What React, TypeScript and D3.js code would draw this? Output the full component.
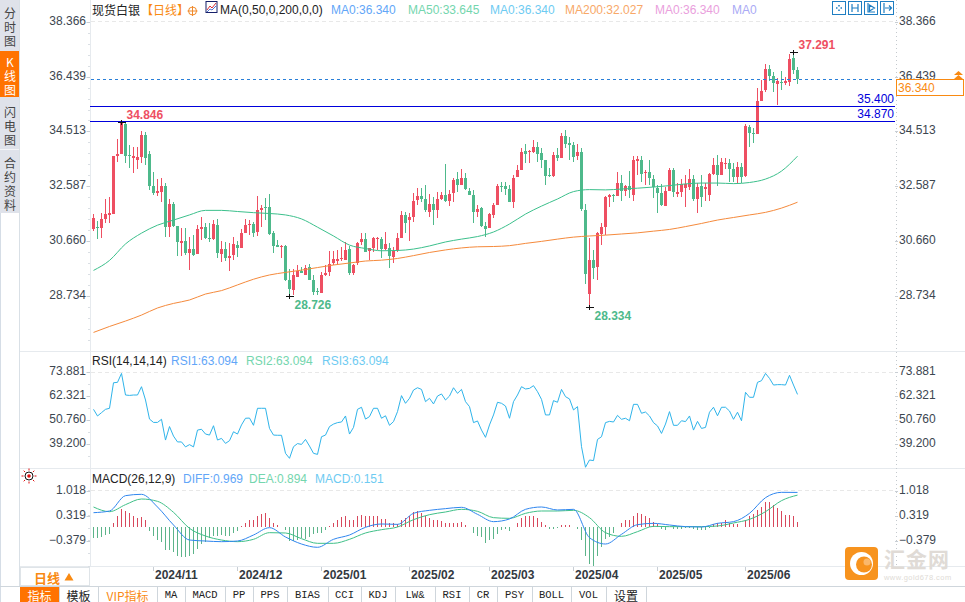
import React from "react";
import * as d3 from "d3";

type Row = [number, number, number, number]; // open, high, low, close
const octCandles: Row[] = [[31.08,31.61,31.01,31.47],[31.15,31.37,30.73,31.12],[31.12,31.65,30.77,31.44],[31.44,32.14,31.30,31.61],[31.58,32.21,31.30,31.65],[31.61,33.65,31.61,33.65],[33.65,34.25,33.44,33.72],[33.72,34.846,33.72,34.81],[34.78,34.81,33.40,33.65],[33.69,34.04,33.23,33.65],[33.58,33.97,33.05,33.65],[33.51,33.97,33.19,33.62],[33.62,34.53,33.40,34.39],[34.39,34.50,33.33,33.58],[33.72,33.83,32.46,32.60]];
const novCandles: Row[] = [[32.60,33.09,32.28,32.35],[32.35,32.84,32.24,32.42],[32.39,32.88,32.03,32.60],[32.60,32.70,30.80,31.15],[31.15,32.14,30.80,31.96],[31.96,32.03,31.15,31.19],[31.19,31.19,30.14,30.63],[30.59,31.12,30.14,30.66],[30.66,31.12,30.17,30.24],[30.24,30.80,29.64,30.38],[30.38,30.87,30.14,30.17],[30.21,31.22,30.21,31.08],[31.08,31.51,30.70,31.15],[31.15,31.30,30.73,30.77],[30.77,31.30,30.63,30.73],[30.73,31.40,30.70,31.26],[31.22,31.44,30.07,30.24],[30.21,30.66,29.92,30.38],[30.38,30.63,29.96,30.07],[30.07,30.59,29.61,30.14],[30.17,30.80,29.99,30.56]];
const decCandles: Row[] = [[30.52,30.66,30.10,30.42],[30.42,31.08,30.42,30.94],[30.94,31.44,30.94,31.22],[31.22,31.40,30.87,31.26],[31.26,31.33,30.80,30.94],[30.98,32.24,30.84,31.75],[31.75,31.93,31.15,31.82],[31.86,32.17,31.40,31.82],[31.86,32.32,30.87,30.91],[30.94,31.01,30.24,30.49],[30.52,30.70,30.45,30.45],[30.45,30.52,30.07,30.49],[30.49,30.52,29.26,29.29],[29.29,29.68,28.726,28.97],[28.94,29.68,28.77,29.47],[29.40,29.82,29.40,29.61],[29.61,29.75,29.54,29.54],[29.47,29.82,29.47,29.71],[29.75,29.85,29.29,29.29],[29.29,29.47,28.77,28.87],[28.91,29.01,28.77,28.87]];
const janCandles: Row[] = [[28.84,29.57,28.84,29.47],[29.47,29.82,29.43,29.54],[29.57,30.31,29.43,29.85],[29.89,30.31,29.82,30.03],[29.96,30.35,29.82,30.03],[30.03,30.45,29.96,30.07],[29.99,30.63,29.99,30.35],[30.38,30.49,29.47,29.54],[29.54,29.85,29.47,29.82],[29.89,30.63,29.82,30.59],[30.63,30.94,30.52,30.73],[30.73,30.94,30.28,30.28],[30.31,30.42,29.99,30.42],[30.42,30.80,30.28,30.77],[30.73,30.80,30.35,30.77],[30.73,30.80,30.07,30.38],[30.38,30.98,30.35,30.56],[30.42,30.59,29.71,30.14],[30.10,30.45,29.89,30.31],[30.35,30.94,30.28,30.77],[30.77,31.72,30.77,31.58],[31.58,31.68,30.94,31.30]];
const febCandles: Row[] = [[31.40,31.65,30.66,31.51],[31.51,32.35,31.33,32.07],[32.10,32.53,31.93,32.24],[32.24,32.53,32.03,32.14],[32.14,32.63,31.68,31.75],[31.68,32.32,31.51,31.96],[31.96,32.21,31.22,31.75],[31.75,32.39,31.47,32.14],[32.14,32.39,32.10,32.28],[32.28,33.37,32.03,32.07],[32.07,32.46,31.89,32.32],[32.35,32.88,32.03,32.81],[32.84,33.09,32.39,32.63],[32.63,33.19,32.63,32.88],[32.88,33.05,32.46,32.49],[32.42,32.53,32.28,32.28],[32.28,32.46,31.30,31.68],[31.68,31.93,31.51,31.79],[31.82,31.86,31.15,31.19],[31.19,31.33,30.80,31.08]];
const marCandles: Row[] = [[31.12,31.65,31.12,31.61],[31.58,32.00,31.47,31.93],[31.93,32.67,31.93,32.60],[32.60,32.74,32.39,32.58],[32.60,32.74,32.28,32.49],[32.49,32.63,32.03,32.03],[32.03,32.98,31.82,32.88],[32.91,33.33,32.91,33.16],[33.16,33.93,33.16,33.79],[33.83,34.07,33.40,33.72],[33.79,33.86,33.40,33.83],[33.79,34.21,33.76,33.97],[33.97,34.14,33.44,33.72],[33.76,33.93,33.23,33.51],[33.51,33.51,32.63,32.95],[32.98,33.23,32.91,32.95],[32.95,33.79,32.91,33.69],[33.69,33.93,33.47,33.58],[33.58,34.46,33.58,34.35],[34.35,34.57,33.93,34.07],[34.11,34.32,33.51,34.04]];
const aprCandles: Row[] = [[34.04,34.14,33.44,33.62],[33.65,34.07,33.51,33.79],[33.79,33.93,31.72,31.79],[31.75,31.96,29.15,29.50],[28.80,30.77,28.334,29.99],[29.99,30.35,29.33,29.71],[29.75,30.98,29.29,30.94],[30.91,31.30,30.52,31.15],[31.15,32.24,30.87,32.21],[32.21,32.32,31.86,32.28],[32.28,32.32,32.03,32.24],[32.24,33.09,32.24,32.70],[32.70,32.98,32.07,32.42],[32.42,32.63,32.24,32.60],[32.60,33.12,32.17,32.46],[32.28,33.65,32.07,33.51],[33.48,33.65,32.98,33.55],[33.51,33.65,32.74,33.02],[33.05,33.16,32.63,33.09],[33.09,33.51,32.63,32.88],[32.84,32.98,32.17,32.56]];
const mayCandles: Row[] = [[32.53,32.63,31.65,32.35],[32.35,32.67,31.89,31.93],[31.89,32.56,31.89,32.42],[32.42,33.23,32.42,33.16],[33.16,33.23,32.21,32.39],[32.32,32.70,32.21,32.39],[32.39,32.84,32.21,32.67],[32.53,32.98,31.86,32.67],[32.56,33.19,32.46,32.84],[32.84,32.98,32.07,32.14],[32.14,32.70,31.65,32.56],[32.60,32.98,31.86,32.21],[32.49,32.70,32.07,32.56],[32.28,33.05,32.07,33.02],[33.02,33.58,32.98,33.34],[33.34,33.69,32.60,32.98],[32.98,33.58,32.98,33.44],[33.37,33.58,33.19,33.40],[33.40,33.55,32.74,33.19],[33.19,33.40,32.74,32.91],[32.91,33.44,32.70,33.26],[33.26,33.40,32.70,32.91]];
const junCandles: Row[] = [[32.95,34.78,32.91,34.71],[34.67,34.74,33.97,34.46],[34.46,34.63,34.11,34.42],[34.42,36.04,34.42,35.58],[35.58,36.32,35.58,35.93],[35.97,36.89,35.90,36.71],[36.71,36.85,36.29,36.46],[36.46,36.60,35.90,36.22],[36.18,36.39,35.44,36.29],[36.26,36.64,35.97,36.25],[36.22,36.43,36.15,36.29],[36.25,37.24,36.11,37.06],[37.10,37.291,36.53,36.67],[36.67,36.78,36.18,36.34]];
const candles: Row[] = [...octCandles,...novCandles,...decCandles,...janCandles,...febCandles,...marCandles,...aprCandles,...mayCandles,...junCandles];

// moving averages, read every 4th session
const ma50 = [29.63,29.98,30.56,30.94,31.22,31.40,31.58,31.74,31.74,31.70,31.66,31.63,31.58,31.44,31.15,30.84,30.52,30.40,30.32,30.33,30.38,30.49,30.63,30.73,30.82,30.98,31.26,31.61,31.89,32.14,32.40,32.47,32.46,32.49,32.52,32.56,32.61,32.67,32.70,32.70,32.68,32.72,32.84,33.12,33.645];
const ma200 = [27.45,27.66,27.85,28.06,28.31,28.47,28.59,28.80,28.92,29.12,29.32,29.47,29.56,29.64,29.73,29.82,29.89,29.96,29.99,30.05,30.15,30.26,30.35,30.42,30.46,30.47,30.50,30.58,30.65,30.73,30.80,30.84,30.87,30.91,30.95,31.01,31.07,31.17,31.28,31.40,31.49,31.58,31.67,31.82,32.027];
const diff = [0.406,0.453,0.879,0.916,0.564,0.064,-0.353,-0.381,-0.399,-0.381,-0.214,-0.010,-0.269,-0.464,-0.556,-0.334,-0.214,0,0.092,0.082,0.388,0.471,0.518,0.555,0.360,0.157,0.231,0.499,0.564,0.481,0.499,-0.288,-0.464,-0.195,0.073,0.110,0.064,0.018,0.008,0.110,0.157,0.388,0.823,0.971,0.969];
const dea = [0.564,0.434,0.629,0.786,0.721,0.416,-0.029,-0.242,-0.353,-0.399,-0.334,-0.149,-0.158,-0.316,-0.445,-0.445,-0.334,-0.158,-0.066,0.008,0.212,0.351,0.425,0.499,0.444,0.268,0.249,0.388,0.453,0.453,0.471,0.268,-0.149,-0.251,-0.121,0.027,0.018,0.018,0.018,0.036,0.120,0.221,0.434,0.740,0.894];
const rsi = [55.9,52.7,54.3,55.9,56.4,68.7,68.9,73.2,62.8,62.6,62.8,62.8,66.8,60.4,51.2,49.6,49.6,51.1,41.1,47.6,43.0,40.2,40.2,37.8,38.9,37.8,45.9,46.3,44.0,43.5,48.0,41.1,41.9,39.5,40.8,45.1,44.0,48.4,51.6,51.7,48.2,56.4,56.4,56.4,46.7,43.5,43.4,43.4,34.7,32.3,37.9,39.4,39.0,41.4,38.2,34.7,34.2,42.7,43.5,47.6,48.8,49.5,49.8,52.7,44.0,47.2,55.9,56.9,51.2,52.4,56.4,56.4,51.6,52.8,48.2,50.0,54.8,62.5,58.8,61.2,65.2,66.3,65.5,59.6,61.2,58.5,62.3,63.3,60.4,62.3,66.3,63.6,65.5,59.6,57.2,49.5,50.3,45.9,42.4,48.4,53.2,59.3,58.8,57.5,51.6,59.6,62.8,66.8,65.7,66.0,67.3,64.4,60.7,53.2,53.2,60.1,59.3,65.5,62.0,60.9,55.6,57.2,37.9,28.0,31.5,31.2,41.4,42.7,49.5,50.1,49.8,53.0,51.1,51.6,50.4,58.3,58.3,54.0,54.6,52.7,49.5,47.9,44.3,48.8,54.8,48.2,48.2,50.4,50.0,52.7,45.9,50.1,46.7,47.2,54.5,56.9,52.8,56.9,56.9,55.1,51.1,54.5,50.4,64.1,61.7,61.7,68.9,69.7,73.2,70.8,67.6,67.8,67.8,67.6,72.3,67.6,63.094];
const macdBars = [-0.30,-0.30,-0.26,-0.22,-0.19,0.13,0.32,0.51,0.45,0.41,0.32,0.26,0.28,0.20,-0.10,-0.24,-0.35,-0.41,-0.63,-0.63,-0.68,-0.80,-0.83,-0.83,-0.80,-0.74,-0.60,-0.47,-0.40,-0.31,-0.23,-0.23,-0.22,-0.23,-0.23,-0.15,-0.11,0.04,0.13,0.20,0.20,0.32,0.37,0.41,0.25,0.13,0.05,0.01,-0.07,-0.37,-0.37,-0.35,-0.31,-0.33,-0.26,-0.19,-0.17,-0.15,-0.07,0.04,0.11,0.20,0.28,0.30,0.20,0.20,0.30,0.34,0.30,0.30,0.32,0.31,0.22,0.22,0.13,0.11,0.09,0.20,0.27,0.30,0.42,0.46,0.39,0.30,0.25,0.19,0.19,0.18,0.13,0.13,0.13,0.13,0.15,0.06,0.01,-0.17,-0.24,-0.26,-0.43,-0.35,-0.32,-0.19,-0.07,-0.06,-0.09,0.02,0.13,0.25,0.31,0.32,0.31,0.25,0.16,0.05,-0.06,-0.06,-0.03,0.06,0.06,0.06,0.02,-0.06,-0.35,-0.80,-1.03,-1.07,-0.81,-0.54,-0.32,-0.26,-0.17,0.02,0.13,0.19,0.19,0.32,0.39,0.37,0.32,0.27,0.16,0.09,-0.06,-0.07,0.01,-0.06,-0.06,-0.04,-0.03,-0.02,-0.06,-0.07,-0.07,-0.07,-0.01,0.09,0.11,0.11,0.19,0.13,0.09,0.09,0.02,0.20,0.30,0.36,0.48,0.57,0.71,0.69,0.62,0.53,0.45,0.34,0.34,0.32,0.151];

const priceTicks = [38.366,36.439,34.513,32.587,30.660,28.734];
const rsiTicks = [73.881,62.321,50.760,39.200];
const macdTicks = [1.018,0.319,-0.379];
const monthLabels = ["2024/11","2024/12","2025/01","2025/02","2025/03","2025/04","2025/05","2025/06"];
const monthStarts = [15,36,57,79,99,120,141,163];
const priceLevels = [35.400,34.870];
const lastPrice = 36.340;
const maxPoints = [{i:7,v:34.846},{i:175,v:37.291}];
const minPoints = [{i:49,v:28.726},{i:124,v:28.334}];
const sideTabs = [["分","时","图"],["K","线","图"],["闪","电","图"],["合","约","资","料"]];
const sideTabTops = [13.5,62,112,163];
const bottomTabs = ["指标","模板","VIP指标","MA","MACD","PP","PPS","BIAS","CCI","KDJ","LW&","RSI","CR","PSY","BOLL","VOL","设置"];
const bottomEdges = [20,59,98,157,185,225,253,287,328,361,395,435,469,497,532,571,606,646];
const maLegend = [["MA0:36.340",331,"#62a6f8"],["MA50:33.645",408,"#74d6ae"],["MA0:36.340",490,"#6ecbf2"],["MA200:32.027",565,"#f8a868"],["MA0:36.340",655,"#eaa0dd"],["MA0",732,"#aaaaf5"]] as const;
const rsiLegend = [["RSI1:63.094",171,"#62a6f8"],["RSI2:63.094",246,"#74d6ae"],["RSI3:63.094",322,"#6ecbf2"]] as const;
const macdLegend = [["DIFF:0.969",183,"#62a6f8"],["DEA:0.894",249,"#74d6ae"],["MACD:0.151",315,"#6ecbf2"]] as const;

const RED = "#ee4f62", GREEN = "#4eb98b", GRID = "#e6eaee";
const SANS = "'Liberation Sans', Arial, sans-serif";
const CJK = "'Noto Sans CJK SC', 'Liberation Sans', sans-serif";
const MONO = "'Liberation Mono', monospace";

const x = d3.scaleLinear().domain([0,176]).range([93.5,797.5]);
const yP = d3.scaleLinear().domain([38.366,28.734]).range([21.85,295.9]);
const yR = d3.scaleLinear().domain([73.881,39.2]).range([372,444]);
const yM = d3.scaleLinear().domain([1.018,-0.379]).range([490.65,540.94]);
const step4 = (_: number, i: number) => x(i*4);
const lineP = d3.line<number>().x(step4).y(d => yP(d)).curve(d3.curveMonotoneX);
const lineM = d3.line<number>().x(step4).y(d => yM(d)).curve(d3.curveMonotoneX);
const lineR = d3.line<number>().x((_, i) => x(i)).y(d => yR(d));

function Axis({ ticks, y, fmt }: { ticks: number[]; y: (v: number) => number; fmt: (v: number) => string }) {
  return <g fontFamily={SANS} fontSize={12} fill="#3c4650">
    {ticks.map(t => <g key={t}>
      <text x={86} y={y(t)-1} textAnchor="end" dominantBaseline="central">{fmt(t)}</text>
      <text x={899} y={y(t)-1} dominantBaseline="central">{fmt(t)}</text>
      <line x1={86.5} x2={90} y1={Math.round(y(t))+.5} y2={Math.round(y(t))+.5} stroke="#c8ced4"/>
      <line x1={895} x2={898} y1={Math.round(y(t))+.5} y2={Math.round(y(t))+.5} stroke="#c8ced4"/>
    </g>)}
  </g>;
}

export default function App() {
  const f3 = d3.format(".3f");
  const minorP = d3.range(21.85, 340, 10.96);
  const minorR = d3.range(372, 466, 12);
  const minorM = d3.range(490, 566, 12.6);
  return (
    <svg width={965} height={602} viewBox="0 0 965 602" style={{position:"fixed",left:0,top:0,background:"#fff"}}>
      {/* left tabs */}
      <rect x={0} y={0} width={19.5} height={213} fill="#dfe2ea"/>
      <rect x={0} y={51} width={19} height={46} fill="#ff7300"/>
      <line x1={0} x2={20} y1={149.5} y2={149.5} stroke="#f4f5f8"/>
      <line x1={0.5} x2={0.5} y1={213} y2={602} stroke="#d5dde6"/>
      <line x1={19.5} x2={19.5} y1={0} y2={586} stroke="#d9e0e6"/>
      <g fontFamily={CJK} fontSize={12} textAnchor="middle">
        {sideTabs.map((tab,k)=><text key={k} y={sideTabTops[k]+4.5} fill={k===1?"#fff":"#444"}>
          {tab.map((c,i)=><tspan key={i} x={10} dy={i===0?0:14}>{c}</tspan>)}
        </text>)}
      </g>

      {/* panel frame */}
      <g stroke={GRID} shapeRendering="crispEdges">
        <line x1={20} x2={965} y1={351.5} y2={351.5}/>
        <line x1={20} x2={965} y1={468.5} y2={468.5}/>
        <line x1={20} x2={965} y1={566.5} y2={566.5}/>
        <line x1={90.5} x2={90.5} y1={0} y2={566}/>
        <line x1={0} x2={965} y1={586.5} y2={586.5} stroke="#cfd6dc"/>
      </g>
      <line x1={896.5} x2={896.5} y1={0} y2={566} stroke="#c4c9ce" strokeDasharray="1 3"/>
      <g stroke="#dadfe4" shapeRendering="crispEdges">
        {[...minorP,...minorR,...minorM].map((m,i)=><line key={i} x1={88} x2={90} y1={Math.round(m)+.5} y2={Math.round(m)+.5}/>)}
      </g>
      <g stroke="#e8e8e8" strokeDasharray="4 3" shapeRendering="crispEdges">
        {[21.5,372.5,490.5].map(v=><line key={v} x1={91} x2={895} y1={v} y2={v}/>)}
      </g>

      {/* header */}
      <g fontFamily={CJK} fontSize={12} dominantBaseline="central">
        <text x={92} y={9} fill="#222">现货白银</text>
        <text x={141} y={9} fill="#f98a12">【日线】</text>
      </g>
      <circle cx={192.5} cy={11} r={4} fill="none" stroke="#f08a2c"/>
      <path d="M187.5 11h10M192.5 6v10" stroke="#f08a2c"/>
      <rect x={206} y={1.5} width={11} height={11} fill="#fff" stroke="#16206a"/>
      <path d="M207 10l3-4 2 2 4-5" fill="none" stroke="#d6303a"/>
      <path d="M207 12l3-3 2 1 4-4" fill="none" stroke="#2050c8" strokeWidth={.8}/>
      <g fontFamily={SANS} fontSize={12} dominantBaseline="central">
        <text x={220} y={9.5} fill="#222">MA(0,50,0,200,0,0)</text>
        {maLegend.map(([t,px,c],i)=><text key={i} x={px} y={9.5} fill={c}>{t}</text>)}
        <text x={92} y={361} fill="#222">RSI(14,14,14)</text>
        {rsiLegend.map(([t,px,c],i)=><text key={i} x={px} y={361} fill={c}>{t}</text>)}
        <text x={92} y={479} fill="#222">MACD(26,12,9)</text>
        {macdLegend.map(([t,px,c],i)=><text key={i} x={px} y={479} fill={c}>{t}</text>)}
      </g>
      {[832,848,864,880].map((bx,i)=><g key={bx} fill="none" stroke="#1f7ec2">
        <rect x={bx+.5} y={1.5} width={13} height={13}/>
        {i===0 ? <path d="M7 5v1.5M7 9.5v1.5M4 8h1.5M8.5 8h1.5" transform={`translate(${bx},0)`} strokeWidth={1.6}/> :
         <path d={i===1?"M4 4v8M10 4v8M4 8h6":i===2?"M4 3v9h7M5.5 5l5 3-5 3z":"M4 3v10M5 8h6M9 5.5l2.5 2.5-2.5 2.5"} transform={`translate(${bx},0)`} strokeWidth={1.2}/>}
      </g>)}

      <Axis ticks={priceTicks} y={yP} fmt={f3}/>
      <Axis ticks={rsiTicks} y={yR} fmt={f3}/>
      <Axis ticks={macdTicks} y={yM} fmt={f3}/>

      {/* candles */}
      <g shapeRendering="crispEdges">
        {candles.map(([o,h,l,c],i)=>{
          const up = c>=o, col = up?RED:GREEN, cx = Math.floor(x(i));
          const top = yP(Math.max(o,c)), bot = yP(Math.min(o,c));
          return <g key={i} fill={col}>
            <rect x={cx} y={yP(h)} width={1} height={Math.max(1,yP(l)-yP(h))}/>
            <rect x={cx-1} y={Math.round(top)} width={3} height={Math.max(1,Math.round(bot)-Math.round(top))}/>
          </g>;
        })}
      </g>
      <path d={lineP(ma50)!} fill="none" stroke="#3cc08c" strokeWidth={1}/>
      <path d={lineP(ma200)!} fill="none" stroke="#f58a3c" strokeWidth={1}/>

      {/* levels */}
      <line x1={91} x2={895} y1={Math.round(yP(lastPrice))+.5} y2={Math.round(yP(lastPrice))+.5} stroke="#2a7fd8" strokeDasharray="3 3" shapeRendering="crispEdges"/>
      {priceLevels.map(v=><g key={v}>
        <line x1={90} x2={895} y1={Math.round(yP(v))+.5} y2={Math.round(yP(v))+.5} stroke="#0000dc" shapeRendering="crispEdges"/>
        <text x={894} y={yP(v)-3.5} textAnchor="end" fontFamily={SANS} fontSize={12} fill="#0000dc">{f3(v)}</text>
      </g>)}
      <rect x={896.5} y={79.5} width={67} height={16} fill="#fff" stroke="#f98a12"/>
      <text x={898} y={88} fontFamily={SANS} fontSize={12} fill="#f98a12" dominantBaseline="central">{f3(lastPrice)}</text>
      <path d="M958.5 71l4.5 4h-9zM958.5 75l4.5 4h-9z" fill="#f98a12"/>

      {/* extremes */}
      {maxPoints.map(p=><g key={p.i}>
        <path d={`M${Math.floor(x(p.i))-3} ${Math.round(yP(p.v))+.5}h8M${Math.floor(x(p.i))+.5} ${Math.round(yP(p.v))-2}v5`} stroke="#111"/>
        <text x={x(p.i)+5} y={yP(p.v)-3} fontFamily={SANS} fontSize={12} fontWeight={700} fill={RED}>{f3(p.v)}</text>
      </g>)}
      {minPoints.map(p=><g key={p.i}>
        <path d={`M${Math.floor(x(p.i))-3} ${Math.round(yP(p.v))+.5}h8M${Math.floor(x(p.i))+.5} ${Math.round(yP(p.v))-2}v5`} stroke="#111"/>
        <text x={x(p.i)+5} y={yP(p.v)+12.5} fontFamily={SANS} fontSize={12} fontWeight={700} fill={GREEN}>{f3(p.v)}</text>
      </g>)}

      {/* RSI */}
      <path d={lineR(rsi)!} fill="none" stroke="#2fb4ea" strokeWidth={1}/>

      {/* MACD */}
      <g shapeRendering="crispEdges">
        {macdBars.map((v,i)=><rect key={i} x={Math.floor(x(i))} width={1}
          y={Math.min(yM(v),yM(0))} height={Math.abs(yM(v)-yM(0))} fill={v>=0?"#d8485c":"#5cb48a"}/>)}
      </g>
      <path d={lineM(dea)!} fill="none" stroke="#3fc088" strokeWidth={1}/>
      <path d={lineM(diff)!} fill="none" stroke="#2f86ef" strokeWidth={1}/>

      {/* sun marker */}
      <circle cx={29} cy={476} r={4} fill="#fff" stroke="#111"/>
      <circle cx={29} cy={476} r={1.8} fill="#e01010"/>
      <path d="M29 468.5v2M29 481.5v2M21.5 476h2M34.5 476h2M23.7 470.7l1.4 1.4M32.9 479.9l1.4 1.4M23.7 481.3l1.4-1.4M32.9 472.1l1.4-1.4" stroke="#e01010"/>

      {/* time axis */}
      <rect x={20.5} y={567.5} width={69} height={18} fill="#fff" stroke="#dfe4e8"/>
      <text x={34} y={577} fontFamily={CJK} fontSize={13} fontWeight={700} fill="#f98a12" dominantBaseline="central">日线</text>
      <path d="M69 569l4.5 7.5h-9z" transform="translate(0,4)" fill="#f98a12"/>
      {monthLabels.map((m,i)=>{
        const tx = Math.floor(x(monthStarts[i]));
        return <g key={m}>
          <line x1={tx+.5} x2={tx+.5} y1={567} y2={571} stroke="#c8ced4"/>
          <text x={tx+2} y={575} fontFamily={SANS} fontSize={12} fontWeight={700} fill="#33393f" dominantBaseline="central">{m}</text>
        </g>;
      })}

      {/* bottom tabs */}
      <rect x={20} y={587} width={39} height={15} fill="#ff7300"/>
      {bottomTabs.map((t,i)=>{
        const a = bottomEdges[i], b = bottomEdges[i+1];
        const latin = /^[A-Z&]+$/.test(t);
        return <g key={t}>
          <line x1={b+.5} x2={b+.5} y1={587} y2={602} stroke="#cfd6dc"/>
          <text x={(a+b)/2} y={595} textAnchor="middle" dominantBaseline="central"
            fontFamily={latin?MONO:CJK} fontSize={latin?10.5:12}
            fill={i===0?"#fff":i===2?"#f98a12":"#222"}>{t}</text>
        </g>;
      })}

      {/* watermark */}
      <rect x={845} y={547} width={33} height={33} rx={4} fill="#f7931e"/>
      <circle cx={861.5} cy={563.5} r={11.5} fill="#fff"/>
      <circle cx={864} cy={564.5} r={8} fill="#f7931e"/>
      <circle cx={867} cy={562} r={3.5} fill="#fff" fillOpacity={.35}/>
      <text fontFamily={CJK} fill="#e0dbd6">
        <tspan x={884} y={567} fontSize={21} fontWeight={700} letterSpacing={1}>汇金网</tspan>
        <tspan x={884} y={580} fontFamily={SANS} fontSize={7.5} letterSpacing={.45}>www.gold678.com</tspan>
      </text>
    </svg>
  );
}
